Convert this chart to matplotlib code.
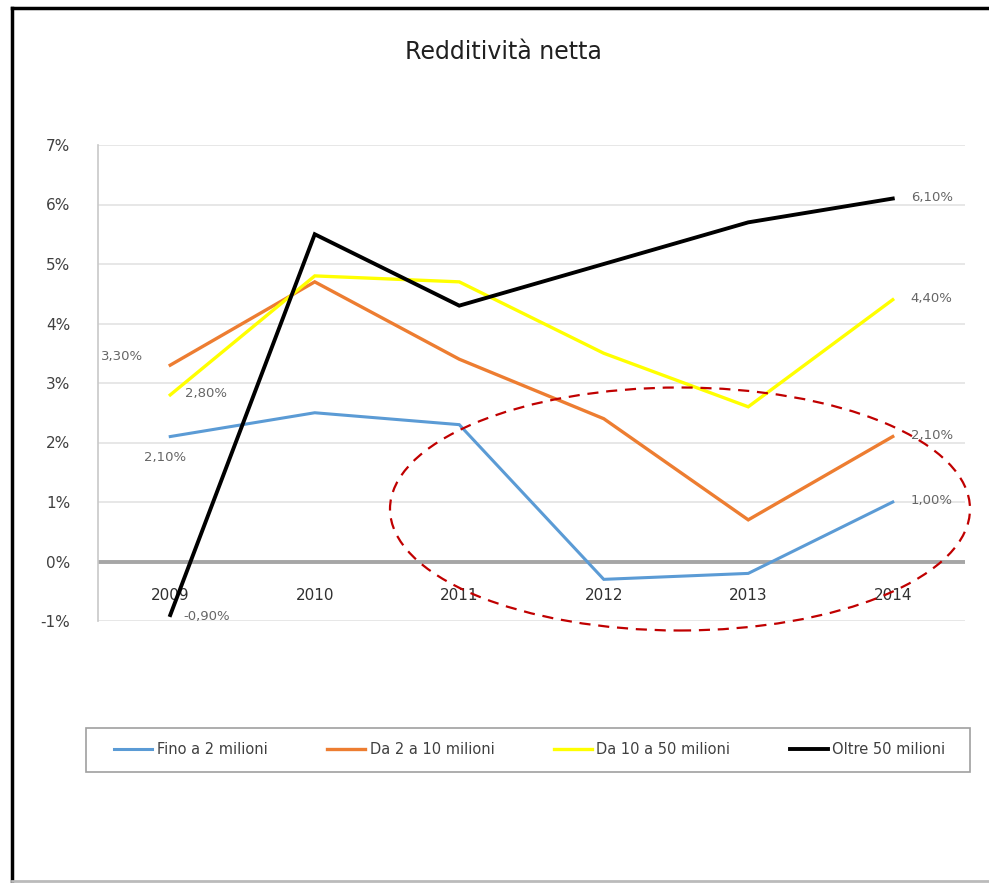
import matplotlib
matplotlib.use("Agg")
import matplotlib.pyplot as plt
from matplotlib.patches import Ellipse, Rectangle
from matplotlib.lines import Line2D

years = ["2009", "2010", "2011", "2012", "2013", "2014"]
series_names = ["Fino a 2 milioni", "Da 2 a 10 milioni", "Da 10 a 50 milioni", "Oltre 50 milioni"]
fino_2 = [2.1, 2.5, 2.3, -0.3, -0.2, 1.0]
da_2_10 = [3.3, 4.7, 3.4, 2.4, 0.7, 2.1]
da_10_50 = [2.8, 4.8, 4.7, 3.5, 2.6, 4.4]
oltre_50 = [-0.9, 5.5, 4.3, 5.0, 5.7, 6.1]
yticks = [-1, 0, 1, 2, 3, 4, 5, 6, 7]
ytick_labels = ["-1%", "0%", "1%", "2%", "3%", "4%", "5%", "6%", "7%"]
title = "Redditività netta"

colors = ["#5B9BD5", "#ED7D31", "#FFFF00", "#000000"]
values = [fino_2, da_2_10, da_10_50, oltre_50]

W, H = 989, 883
fig = plt.figure(figsize=(W / 100, H / 100), dpi=100)
ax = fig.add_axes([98 / W, 1 - 621 / H, 867 / W, 476 / H])

x = list(range(len(years)))
lws = [2.2, 2.4, 2.4, 2.8]
for vals, c, name, lw in zip(values, colors, series_names, lws):
    ax.plot(x, vals, color=c, lw=lw, label=name, zorder=3, solid_joinstyle="miter")

ax.set_xlim(-0.5, len(years) - 0.5)
ax.set_ylim(-1, 7)
ax.set_yticks(yticks)
ax.set_yticklabels(ytick_labels, fontsize=11, color="#404040")
ax.grid(axis="y", color="#E3E3E3", lw=1.2, zorder=0)
ax.axhline(0, color="#A6A6A6", lw=2.8, zorder=2)

for s in ["top", "right"]:
    ax.spines[s].set_visible(False)
ax.spines["left"].set_color("#C8C8C8")
ax.spines["left"].set_linewidth(1.2)
ax.spines["bottom"].set_position(("data", 0))
ax.spines["bottom"].set_visible(False)
ax.set_xticks(x)
ax.set_xticklabels(years, fontsize=11, color="#303030")
ax.tick_params(axis="x", length=0, pad=19)
ax.tick_params(axis="y", length=0, pad=20)

lab_kw = dict(fontsize=9.5, color="#666666", zorder=4)
ax.annotate("3,30%", (0, da_2_10[0]), xytext=(-35, 6), textcoords="offset points", ha="center", va="center", **lab_kw)
ax.annotate("2,80%", (0, da_10_50[0]), xytext=(26, 1), textcoords="offset points", ha="center", va="center", **lab_kw)
ax.annotate("2,10%", (0, fino_2[0]), xytext=(-4, -15), textcoords="offset points", ha="center", va="center", **lab_kw)
ax.annotate("-0,90%", (0, oltre_50[0]), xytext=(26, -1), textcoords="offset points", ha="center", va="center", **lab_kw)
for vals in values:
    v = vals[-1]
    ax.annotate(f"{v:.2f}%".replace(".", ","), (len(years) - 1, v), xytext=(28, 1),
                textcoords="offset points", ha="center", va="center", **lab_kw)

fig.text(503 / W, 1 - 52 / H, title, ha="center", va="center", fontsize=17, color="#202020")

fig.add_artist(Rectangle((86 / W, 1 - 772 / H), 884 / W, 44 / H, transform=fig.transFigure,
                         fill=False, edgecolor="#A0A0A0", lw=1.2))
leg = fig.legend(loc="center", bbox_to_anchor=(530 / W, 1 - 750 / H),
                 ncol=4, fontsize=10.5, frameon=False,
                 handlelength=2.6, handletextpad=0.3, columnspacing=4.1)
for t in leg.get_texts():
    t.set_color("#404040")

ell = Ellipse((680 / W, 1 - 509 / H), 580 / W, 243 / H, transform=fig.transFigure,
              fill=False, edgecolor="#C00000", lw=1.6, linestyle=(0, (5, 3.5)), zorder=10)
fig.add_artist(ell)

fig.add_artist(Line2D([12 / W, 1], [1 - 8 / H, 1 - 8 / H], transform=fig.transFigure, color="black", lw=2.5))
fig.add_artist(Line2D([12 / W, 12 / W], [1 - 8 / H, 1 - 881 / H], transform=fig.transFigure, color="black", lw=2.5))
fig.add_artist(Line2D([12 / W, 1], [1 - 881 / H, 1 - 881 / H], transform=fig.transFigure, color="#BBBBBB", lw=2))

fig.savefig("out.png", dpi=100)
